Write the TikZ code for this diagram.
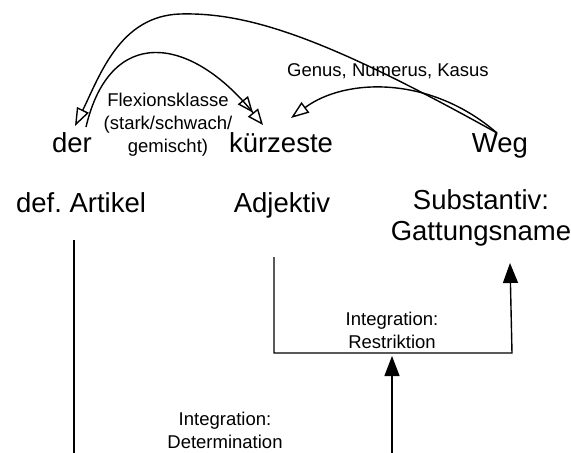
\documentclass[tikz,border=0pt]{standalone}
\usepackage{fontspec}
\setmainfont{Liberation Sans}
\usepackage{tikz}
\usetikzlibrary{arrows.meta,positioning}
\frenchspacing
\tikzset{
  word/.style={font=\fontsize{27.5}{31}\selectfont, inner sep=0pt, align=center},
  note/.style={font=\fontsize{18.5}{23}\selectfont, inner sep=0pt, align=center},
  link/.style={line width=1.4pt},
  agree/.style={link, -{Triangle[open,length=18pt,width=13pt]}},
  agreetwo/.style={link, -{Triangle[open,length=16pt,width=13pt]Triangle[open,length=16pt,width=13pt]}},
  integ/.style={link, -{Triangle[length=20pt,width=15pt]}}
}

\begin{document}
\begin{tikzpicture}[x=1pt,y=-1pt]
  \useasboundingbox (0,0) rectangle (571,453);
  % words
  \node[word, anchor=base] (der) at (72,152) {der};
  \node[word, anchor=base] (kurz) at (281,152) {kürzeste};
  \node[word, anchor=base] (weg) at (500,152) {Weg};
  % categories
  \node[word, anchor=base] (artikel) at (81,212) {def. Artikel};
  \node[word, anchor=base] (adjektiv) at (282,212) {Adjektiv};
  \node[word] (subst) at (481,218) {Substantiv:\\Gattungsname};
  % labels
  \node[note] (flexion) at (168,125) {Flexionsklasse\\(stark/schwach/\\gemischt)};
  \node[note] (genus) at (388,71) {Genus, Numerus, Kasus};
  \node[note] (restr) at (392,330) {Integration:\\Restriktion};
  \node[note] (determ) at (225,430) {Integration:\\Determination};
  % anchor points of the connectors
  \coordinate (wegtop) at (497,133);
  \coordinate (bigpeak) at (180,14);
  \coordinate (dertip) at (75,126);
  \coordinate (derfoot) at (86,127);
  \coordinate (kurztip) at (263,125);
  \coordinate (kurzright) at (291,118);
  \coordinate (arttop) at (74,240);
  \coordinate (artbot) at (74,453);
  \coordinate (adjtop) at (274,257);
  \coordinate (adjcorner) at (274,353);
  \coordinate (substcorner) at (512,353);
  \coordinate (substtip) at (510,263);
  \coordinate (midtip) at (392,356);
  \coordinate (midbot) at (392,453);
  % agreement arcs
  \draw[agree] (wegtop) .. controls (330,40) and (250,12) .. (bigpeak)
    .. controls (120,16) and (100,75) .. (dertip);
  \draw[agreetwo] (derfoot) .. controls (110,25) and (190,35) .. (kurztip);
  \draw[agree] (wegtop) .. controls (430,75) and (345,78) .. (kurzright);
  % integration
  \draw[link] (arttop) -- (artbot);
  \draw[integ] (adjtop) -- (adjcorner) -- (substcorner) -- (substtip);
  \draw[integ] (midbot) -- (midtip);
\end{tikzpicture}
\end{document}
